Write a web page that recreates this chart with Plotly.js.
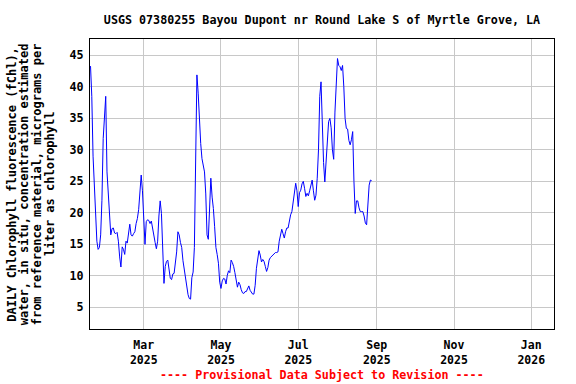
<!DOCTYPE html>
<html>
<head>
<meta charset="utf-8">
<script src="https://cdn.plot.ly/plotly-3.0.1.min.js"></script>
<style>html,body{margin:0;padding:0;background:#fff;}#chart{width:576px;height:384px;}</style>
</head>
<body>
<div id="chart"></div>
<script>
// Daily chlorophyll values (micrograms per liter), by month, 2025
const janStartDay = 18;
const janVals = [43.3, 38.5, 29, 24, 19.4, 15.5, 14.2, 14.5, 16.5, 22, 31.8, 36.3, 38.5, 26.5];
const febVals = [22.5, 19.5, 16.5, 17.5, 17.6, 16.8, 16.7, 16.9, 15.5, 13, 11.4, 14.6, 14.2, 13.4,
                 15.5, 15.2, 16.7, 18.2, 16.5, 16.3, 16.7, 17, 18.3, 19.1, 20.5, 24, 26, 23.5];
const marVals = [19.5, 15, 18.6, 18.9, 18.8, 18.3, 18.7, 17.5, 15.9, 15.3, 14.3, 15.5, 19.5, 21.9, 19.9,
                 14, 8.8, 11.5, 12.3, 12.5, 10.8, 9.6, 9.4, 10.3, 10.4, 11.9, 13.8, 17, 16.5, 15.3, 14.5];
const aprVals = [12.4, 10.9, 9.2, 7.8, 7.0, 6.4, 6.3, 9.7, 10.6, 14.5, 26, 41.9, 39, 34, 31,
                 28.6, 27.6, 26.5, 23, 16.5, 15.8, 21, 25.5, 22.5, 20.7, 17.8, 14.5, 13.4, 12, 9];
const mayVals = [8, 9.2, 9.6, 9.5, 8.7, 10.1, 10.8, 10.5, 12.5, 12.1, 11.5, 10.5, 9.2, 8.2, 9, 8.6,
                 7.8, 7.3, 7.2, 7.5, 7.5, 8, 8.4, 7.7, 7.3, 7.1, 7.1, 8.5, 11.2, 13, 14];
const junVals = [13.3, 12.2, 12.6, 12.3, 11.5, 10.7, 11.3, 12.5, 12.9, 13.1, 13.3, 13.6, 13.7, 13.7, 13.8,
                 15.5, 16.5, 17.4, 16.7, 16, 17, 17.6, 17.6, 18.8, 19.7, 20.2, 21.5, 23, 24.7, 23.5];
const julVals = [21, 23.2, 23.6, 24.6, 25, 23.9, 22.6, 23.1, 22.7, 23.5, 24.5, 25.2, 23.5, 22, 22.8, 25.5,
                 30, 38.5, 40.8, 33.5, 28, 24.9, 28, 32, 34.5, 35, 33.5, 30, 28.5, 36, 41.3];
const augVals = [44.5, 43.4, 43.2, 42.6, 43.4, 40, 35, 33.4, 33.3, 31.5, 30.8, 31.6, 32.9, 25,
                 19.9, 21.9, 21.9, 20.8, 20.2, 20.2, 20.2, 19.5, 18.4, 18.1, 21, 24.4, 25.2, 25.1];

const monthSeries = [
  {m: '01', first: janStartDay, vals: janVals},
  {m: '02', first: 1, vals: febVals},
  {m: '03', first: 1, vals: marVals},
  {m: '04', first: 1, vals: aprVals},
  {m: '05', first: 1, vals: mayVals},
  {m: '06', first: 1, vals: junVals},
  {m: '07', first: 1, vals: julVals},
  {m: '08', first: 1, vals: augVals}
];

const xs = [], ys = [];
monthSeries.forEach(s => {
  s.vals.forEach((v, i) => {
    const day = s.first + i;
    xs.push('2025-' + s.m + '-' + String(day).padStart(2, '0'));
    ys.push(v);
  });
});

const titleText = 'USGS 07380255 Bayou Dupont nr Round Lake S of Myrtle Grove, LA';
const yTitleLines = [
  'DAILY Chlorophyll fluorescence (fChl),',
  'water, in situ, concentration estimated',
  'from reference material, micrograms per',
  'liter as chlorophyll'
];
const footText = '---- Provisional Data Subject to Revision ----';

const mono = 'DejaVu Sans Mono, monospace';
const yTitleX = [11.7, 24.3, 37.3, 50];

const annotations = yTitleLines.map((t, i) => ({
  text: t, xref: 'paper', yref: 'paper', x: 0, y: 0.5,
  xanchor: 'center', yanchor: 'middle', xshift: yTitleX[i] - 90,
  textangle: -90, showarrow: false,
  font: {family: mono, size: 12, color: '#000', weight: 'bold'}
}));
annotations.push({
  text: footText, xref: 'paper', yref: 'paper', x: 0.5, y: 0,
  xanchor: 'center', yanchor: 'middle', yshift: -46, showarrow: false,
  font: {family: mono, size: 11.7, color: '#ff0000', weight: 'bold'}
});

const trace = {
  x: xs, y: ys, type: 'scatter', mode: 'lines',
  line: {color: '#0000ff', width: 1}, hoverinfo: 'skip'
};

const layout = {
  width: 576, height: 384,
  margin: {l: 90, r: 22, t: 39, b: 55},
  paper_bgcolor: '#fff', plot_bgcolor: '#fff',
  showlegend: false,
  title: {
    text: titleText, x: 0.5, xref: 'paper', xanchor: 'center',
    y: 1 - 20 / 384, yanchor: 'middle',
    font: {family: mono, size: 11.7, color: '#000', weight: 'bold'}
  },
  xaxis: {
    type: 'date',
    range: ['2025-01-17 14:00', '2026-01-18 23:00'],
    tick0: '2025-01-01', dtick: 'M2', tickformat: '%b<br>%Y',
    showgrid: true, gridcolor: '#c8c8c8', gridwidth: 1,
    showline: true, linecolor: '#000', linewidth: 1, mirror: true,
    ticks: '', ticklabelstandoff: 5,
    tickfont: {family: mono, size: 11.5, color: '#000', weight: 'bold'},
    zeroline: false
  },
  yaxis: {
    range: [1.56, 47.6], tick0: 0, dtick: 5,
    showgrid: true, gridcolor: '#c8c8c8', gridwidth: 1,
    showline: true, linecolor: '#000', linewidth: 1, mirror: true,
    ticks: '', ticklabelstandoff: 3,
    tickfont: {family: mono, size: 11.7, color: '#000', weight: 'bold'},
    zeroline: false
  },
  annotations: annotations
};

Plotly.newPlot('chart', [trace], layout, {staticPlot: true, displayModeBar: false});
</script>
</body>
</html>
